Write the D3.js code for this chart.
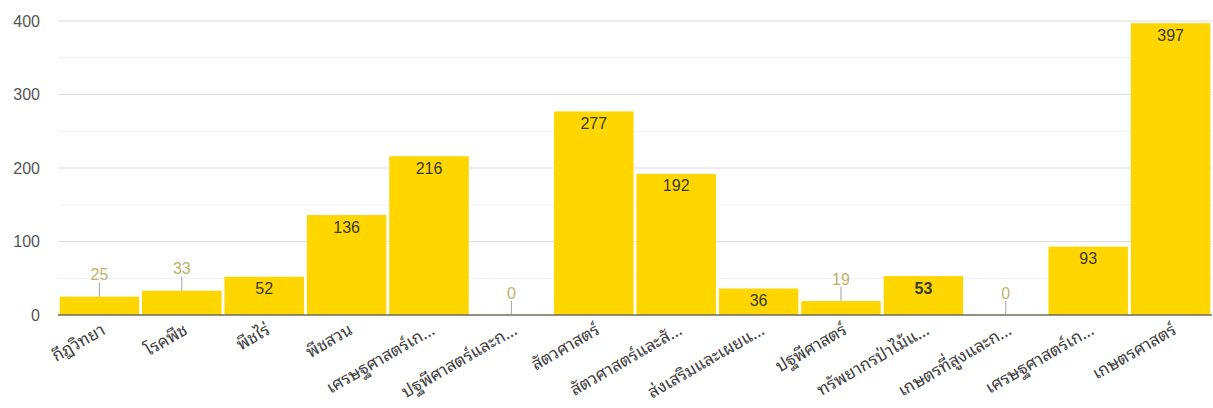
<!DOCTYPE html>
<html>
<head>
<meta charset="utf-8">
<script src="https://cdn.jsdelivr.net/npm/d3@7"></script>
<style>
  html, body { margin: 0; padding: 0; background: #fff; }
  svg { display: block; font-family: "Noto Sans Thai Looped", "Noto Sans Thai", "Noto Sans", Roboto, Arial, sans-serif; }
</style>
</head>
<body>
<svg id="chart" width="1213" height="408"></svg>
<script>
// Number of students per field of study
const categories = [
  "กีฏวิทยา", "โรคพืช", "พืชไร่", "พืชสวน", "เศรษฐศาสตร์เก…",
  "ปฐพีศาสตร์และก…", "สัตวศาสตร์", "สัตวศาสตร์และสั…", "ส่งเสริมและเผยแ…",
  "ปฐพีศาสตร์", "ทรัพยากรป่าไม้แ…", "เกษตรที่สูงและก…", "เศรษฐศาสตร์เก…", "เกษตรศาสตร์"
];
const values = [25, 33, 52, 136, 216, 0, 277, 192, 36, 19, 53, 0, 93, 397];
const yTicks = [0, 100, 200, 300, 400];
const yMinorTicks = [50, 150, 250, 350];

const svg = d3.select("#chart");
const plot = { left: 58, right: 1212, top: 21, bottom: 315 };

const x = d3.scaleBand()
  .domain(d3.range(categories.length))
  .range([plot.left, plot.right])
  .paddingInner(0.035)
  .paddingOuter(0.02);

const y = d3.scaleLinear().domain([0, 400]).range([plot.bottom, plot.top]);

// gridlines
svg.append("g").selectAll("line").data(yMinorTicks).join("line")
  .attr("x1", plot.left).attr("x2", plot.right)
  .attr("y1", d => y(d)).attr("y2", d => y(d))
  .attr("stroke", "#f0f0f0").attr("stroke-width", 1);
svg.append("g").selectAll("line").data(yTicks.slice(1)).join("line")
  .attr("x1", plot.left).attr("x2", plot.right)
  .attr("y1", d => y(d)).attr("y2", d => y(d))
  .attr("stroke", "#dcdcdc").attr("stroke-width", 1.2);

// y axis labels
const yAxis = svg.append("g")
  .attr("transform", `translate(${plot.left},0)`)
  .call(d3.axisLeft(y).tickValues(yTicks).tickSize(0).tickPadding(18));
yAxis.select(".domain").remove();
yAxis.selectAll("text")
  .attr("fill", "#555").style("font-size", "16px")
  .style("font-family", "Arial, 'Liberation Sans', sans-serif");

// bars
const idx = d3.range(categories.length);
svg.append("g").selectAll("rect").data(idx).join("rect")
  .attr("x", i => x(i))
  .attr("y", i => y(values[i]))
  .attr("width", x.bandwidth())
  .attr("height", i => y(0) - y(values[i]))
  .attr("fill", "#FFD600");

// baseline
svg.append("line")
  .attr("x1", plot.left).attr("x2", plot.right)
  .attr("y1", y(0)).attr("y2", y(0))
  .attr("stroke", "#6b6b5a").attr("stroke-width", 1.5);

// value labels: inside tall bars, above short bars with a leader line
const cx = i => x(i) + x.bandwidth() / 2;
const labels = svg.append("g")
  .style("font-family", "Arial, 'Liberation Sans', sans-serif")
  .style("font-size", "16px");
idx.forEach(i => {
  const v = values[i];
  const h = y(0) - y(v);
  if (h >= 25) {
    labels.append("text")
      .attr("x", cx(i)).attr("y", y(v) + 12)
      .attr("dy", "0.35em").attr("text-anchor", "middle")
      .attr("fill", "#3a3a2a")
      .style("font-weight", v === 53 ? "bold" : "normal")
      .text(v);
  } else {
    labels.append("line")
      .attr("x1", cx(i)).attr("x2", cx(i))
      .attr("y1", y(v) - 14).attr("y2", y(v))
      .attr("stroke", "#a0a0a0").attr("stroke-width", 1);
    labels.append("text")
      .attr("x", cx(i)).attr("y", y(v) - 22)
      .attr("dy", "0.35em").attr("text-anchor", "middle")
      .attr("fill", "#c4b06a")
      .text(v);
  }
});

// category labels, rotated
svg.append("g").selectAll("text").data(idx).join("text")
  .attr("transform", i => `translate(${cx(i) + 4},${plot.bottom + 13}) rotate(-30)`)
  .attr("text-anchor", "end")
  .attr("dy", "0.35em")
  .attr("fill", "#404040")
  .style("font-size", "17px")
  .text(i => categories[i]);
</script>
</body>
</html>
